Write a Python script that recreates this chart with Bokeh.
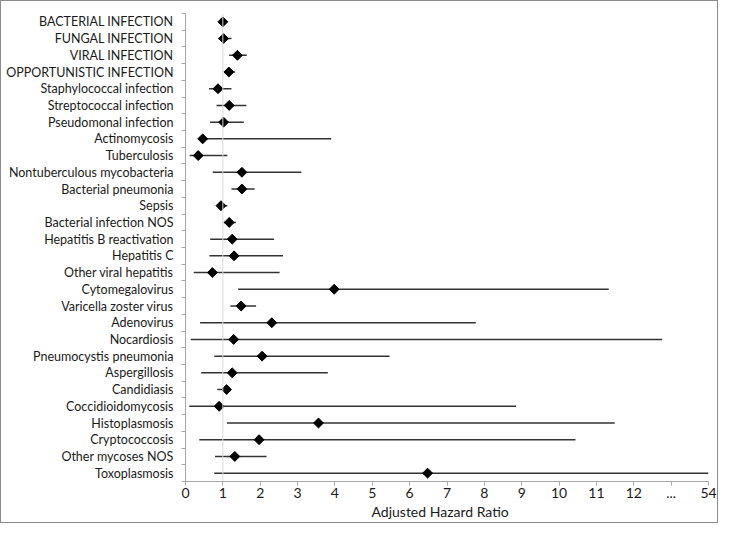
import math
from bokeh.plotting import figure
from bokeh.models import Range1d, FixedTicker, ColumnDataSource, Span, Title
from bokeh.embed import file_html
from bokeh.resources import INLINE

# ---------------- data ----------------
names = [
    "BACTERIAL INFECTION", "FUNGAL INFECTION", "VIRAL INFECTION", "OPPORTUNISTIC INFECTION",
    "Staphylococcal infection", "Streptococcal infection", "Pseudomonal infection",
    "Actinomycosis", "Tuberculosis", "Nontuberculous mycobacteria", "Bacterial pneumonia",
    "Sepsis", "Bacterial infection NOS", "Hepatitis B reactivation", "Hepatitis C",
    "Other viral hepatitis", "Cytomegalovirus", "Varicella zoster virus", "Adenovirus",
    "Nocardiosis", "Pneumocystis pneumonia", "Aspergillosis", "Candidiasis",
    "Coccidioidomycosis", "Histoplasmosis", "Cryptococcosis", "Other mycoses NOS",
    "Toxoplasmosis",
]
hr = [1.00, 1.02, 1.39, 1.16, 0.87, 1.17, 1.02, 0.46, 0.34, 1.51, 1.51, 0.95, 1.17, 1.25,
      1.30, 0.72, 3.98, 1.49, 2.31, 1.29, 2.05, 1.25, 1.10, 0.90, 3.56, 1.97, 1.32, 6.48]
lo = [0.96, 0.88, 1.17, 1.03, 0.63, 0.83, 0.66, 0.35, 0.11, 0.73, 1.23, 0.86, 1.03, 0.66,
      0.64, 0.22, 1.41, 1.20, 0.39, 0.14, 0.77, 0.42, 0.85, 0.10, 1.11, 0.37, 0.79, 0.77]
hi = [1.05, 1.23, 1.64, 1.33, 1.23, 1.63, 1.56, 3.90, 1.12, 3.10, 1.85, 1.12, 1.35, 2.37,
      2.61, 2.52, 11.33, 1.89, 7.77, 12.76, 5.46, 3.81, 1.20, 8.85, 11.49, 10.44, 2.17, 54.0]

x_ticks = list(range(0, 15))
x_tick_labels = {13: "...", 14: "54"}   # broken axis: 54 drawn at position 14
BREAK_VALUE, BREAK_POS = 54.0, 14

# broken-axis mapping of the value shown past the "..." gap
def axis_pos(v):
    return BREAK_POS if v >= BREAK_VALUE else v

ys = list(range(len(names)))
src = ColumnDataSource(dict(
    y=ys, hr=hr, lo=[axis_pos(v) for v in lo], hi=[axis_pos(v) for v in hi],
))

FONT = "Lato"
TXT = "#1a1a1a"
AX = "#a6a6a6"

p = figure(width=718, height=523, output_backend="svg", toolbar_location=None,
           x_range=Range1d(0, 14), y_range=Range1d(len(names) - 0.5, -0.5),
           min_border_left=184, min_border_right=11, min_border_top=12, min_border_bottom=40)
p.outline_line_color = None
p.xgrid.visible = False
p.ygrid.visible = False
p.background_fill_color = "white"
p.border_fill_color = "white"
p.styles = {"border": "1px solid #8c8c8c"}

# reference line at HR = 1
p.add_layout(Span(location=1, dimension="height", line_color="#d9d9d9", line_width=1))

p.segment(x0="lo", x1="hi", y0="y", y1="y", source=src, line_color="#333333", line_width=1.5)
p.scatter(x="hr", y="y", source=src, marker="square", size=7, angle=math.pi / 4,
          fill_color="black", line_color="black")

# y axis: labels at category centres, small ticks at boundaries
p.yaxis.ticker = FixedTicker(ticks=ys, minor_ticks=[i - 0.5 for i in range(len(names) + 1)])
p.yaxis.major_label_overrides = {i: n for i, n in enumerate(names)}
p.yaxis.major_tick_out = 0
p.yaxis.major_tick_in = 0
p.yaxis.minor_tick_out = 4
p.yaxis.minor_tick_in = 0
p.yaxis.minor_tick_line_color = AX
p.yaxis.axis_line_color = AX
p.yaxis.major_label_standoff = 8
p.yaxis.major_label_text_font = FONT
p.yaxis.major_label_text_font_size = "12.5px"
p.yaxis.major_label_text_color = TXT

# x axis
p.xaxis.ticker = FixedTicker(ticks=x_ticks, minor_ticks=[])
p.xaxis.major_label_overrides = x_tick_labels
p.xaxis.major_tick_out = 4
p.xaxis.major_tick_in = 0
p.xaxis.major_tick_line_color = AX
p.xaxis.axis_line_color = AX
p.xaxis.major_label_standoff = 2
p.xaxis.major_label_text_font = FONT
p.xaxis.major_label_text_font_size = "14px"
p.xaxis.major_label_text_color = TXT

p.add_layout(Title(text="Adjusted Hazard Ratio", align="left", offset=186,
                   vertical_align="top", text_font=FONT, text_font_size="14px",
                   text_font_style="normal", text_color=TXT, standoff=5), "below")

open("out.html", "w").write(file_html(p, INLINE))
